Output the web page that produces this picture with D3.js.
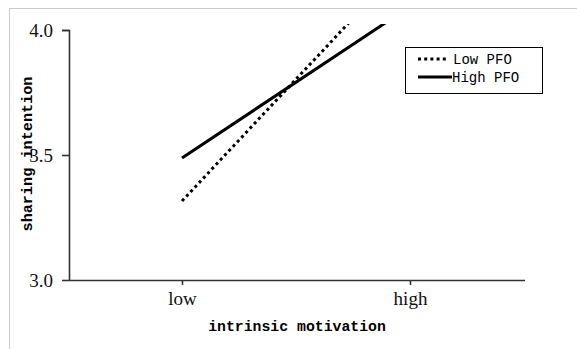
<!DOCTYPE html>
<html><head><meta charset="utf-8">
<script src="https://cdn.jsdelivr.net/npm/d3@7"></script>
<style>body{margin:0;background:#fff;}svg{display:block;}</style>
</head><body>
<script>
const categories = ["low", "high"];
const seriesNames = ["Low PFO", "High PFO"];
const lowPFO = [3.316, 4.29];
const highPFO = [3.488, 4.094];
const yTicks = [3.0, 3.5, 4.0];

const W = 577, H = 349;
const svg = d3.select("body").append("svg").attr("width", W).attr("height", H);

// outer frame (top & left visible)
svg.append("path").attr("d", `M9.5,${H} V8.5 H${W}`).attr("fill","none").attr("stroke","#c8c8c8").attr("stroke-width",1);

const x = d3.scalePoint().domain(categories).range([182, 410]);
const y = d3.scaleLinear().domain([3.0, 4.0]).range([280, 30]);

svg.append("defs").append("clipPath").attr("id","clip")
  .append("rect").attr("x",69).attr("y",24).attr("width",460).attr("height",256);

const line = d3.line().x((d,i)=>x(categories[i])).y(d=>y(d));
const g = svg.append("g").attr("clip-path","url(#clip)");
g.append("path").datum(highPFO).attr("d", line).attr("fill","none").attr("stroke","#000").attr("stroke-width",3);
g.append("path").datum(lowPFO).attr("d", line).attr("fill","none").attr("stroke","#000").attr("stroke-width",3).attr("stroke-dasharray","3,3.2");

// y axis
const yAxis = svg.append("g").attr("transform","translate(69,0)")
  .call(d3.axisLeft(y).tickValues(yTicks).tickFormat(d3.format(".1f")).tickSize(7).tickPadding(9));
// x axis
const xAxis = svg.append("g").attr("transform","translate(0,280)")
  .call(d3.axisBottom(x).tickSize(5).tickPadding(7));
xAxis.select(".domain").attr("d","M69,0.5H525");
[yAxis, xAxis].forEach(a=>{
  a.selectAll("path,line").attr("stroke","#333").attr("stroke-width",1.6);
  a.selectAll("text").attr("font-family","'Liberation Serif','Times New Roman',serif").attr("font-size",19).attr("fill","#111");
});
yAxis.select(".domain").attr("d","M-7,30.5H0.5V280.5");

// axis titles
const titleFont = "'Liberation Mono','DejaVu Sans Mono',monospace";
svg.append("text").attr("x",297).attr("y",331).attr("text-anchor","middle")
  .attr("font-family",titleFont).attr("font-weight","bold").attr("font-size",14.8)
  .text("intrinsic motivation");
svg.append("text").attr("transform","translate(32,154) rotate(-90)").attr("text-anchor","middle")
  .attr("font-family",titleFont).attr("font-weight","bold").attr("font-size",15.2)
  .text("sharing intention");

// legend
const lg = svg.append("g");
lg.append("rect").attr("x",405.5).attr("y",47.5).attr("width",137).attr("height",46).attr("fill","#fff").attr("stroke","#000").attr("stroke-width",1);
const legendRows = [{name: seriesNames[0], dash:"3,3.2", x2:446, y:59}, {name: seriesNames[1], dash:null, x2:452, y:77}];
legendRows.forEach(r=>{
  const l = lg.append("line").attr("x1",418).attr("x2",r.x2).attr("y1",r.y).attr("y2",r.y).attr("stroke","#000").attr("stroke-width",3);
  if (r.dash) l.attr("stroke-dasharray", r.dash);
  lg.append("text").attr("x", r.dash?453:452).attr("y", r.y+5).attr("font-family",titleFont)
    .attr("font-size",14).attr("fill","#000").text(r.name);
});
</script>
</body></html>
